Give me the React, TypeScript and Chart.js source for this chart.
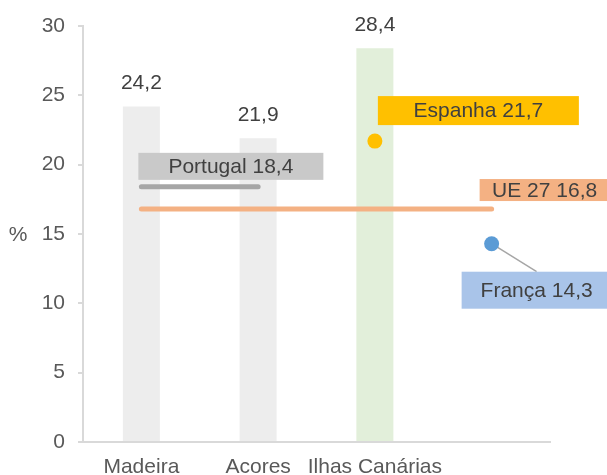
import React, { useEffect, useRef } from "react";
import { Chart, registerables } from "chart.js";

Chart.register(...registerables);

const categories = ["Madeira", "Acores", "Ilhas Canárias", ""];
const barValues = [24.2, 21.9, 28.4, null];
const portugalValues = [18.4, 18.4, null, null];
const ueValues = [16.8, 16.8, 16.8, 16.8];
const espanhaValues = [null, null, 21.7, null];
const francaValues = [null, null, null, 14.3];
const yTickMin = 0;
const yTickMax = 30;
const yTickStep = 5;

const FONT = '"Liberation Sans", Arial, sans-serif';
const TEXT = "#404040";
const fmt = (v: number) => v.toFixed(1).replace(".", ",");

// callouts: which dataset/point they annotate and their box style/offset (px)
const callouts = [
  { ds: 1, idx: 0, name: "Portugal", bg: "#c9c9c9", dx: -3, dy: -34, w: 185, h: 27 },
  { ds: 3, idx: 2, name: "Espanha", bg: "#ffc000", dx: 3, dy: -45, w: 201, h: 29 },
  { ds: 2, idx: 3, name: "UE 27", bg: "#f4b183", dx: -12, dy: -30, w: 130, h: 22 },
  { ds: 4, idx: 3, name: "França", bg: "#a9c4e9", dx: -30, dy: 28, w: 150, h: 37, leader: { x: 45, y: 28 } },
];

const overlay = {
  id: "overlay",
  afterDatasetsDraw(chart: any) {
    const ctx = chart.ctx;
    const x = chart.scales.x;
    const y = chart.scales.y;
    ctx.save();
    ctx.font = `21px ${FONT}`;
    ctx.fillStyle = TEXT;
    ctx.textAlign = "center";
    ctx.textBaseline = "middle";
    // bar value labels
    barValues.forEach((v, i) => {
      if (v == null) return;
      ctx.fillText(fmt(v), x.getPixelForValue(i), y.getPixelForValue(v) - 23);
    });
    // callouts
    callouts.forEach((c) => {
      const v = chart.data.datasets[c.ds].data[c.idx] as number;
      const px = x.getPixelForValue(c.idx);
      const py = y.getPixelForValue(v);
      if (c.leader) {
        ctx.strokeStyle = "#a6a6a6";
        ctx.lineWidth = 1.5;
        ctx.beginPath();
        ctx.moveTo(px, py);
        ctx.lineTo(px + c.leader.x, py + c.leader.y);
        ctx.stroke();
      }
      ctx.fillStyle = c.bg;
      ctx.fillRect(px + c.dx, py + c.dy, c.w, c.h);
      ctx.fillStyle = TEXT;
      ctx.fillText(`${c.name} ${fmt(v)}`, px + c.dx + c.w / 2, py + c.dy + c.h / 2 + 1);
    });
    // redraw points above leader line
    [3, 4].forEach((d) => {
      const ds = chart.data.datasets[d];
      ds.data.forEach((v: any, i: number) => {
        if (v == null) return;
        ctx.fillStyle = ds.backgroundColor;
        ctx.beginPath();
        ctx.arc(x.getPixelForValue(i), y.getPixelForValue(v), 7.5, 0, Math.PI * 2);
        ctx.fill();
      });
    });
    // y axis title
    ctx.fillStyle = "#595959";
    ctx.fillText("%", 18, y.getPixelForValue(15) + 1);
    ctx.restore();
  },
};

export default function App() {
  const ref = useRef<HTMLCanvasElement>(null);
  useEffect(() => {
    const chart = new Chart(ref.current!, {
      type: "bar",
      data: {
        labels: categories,
        datasets: [
          {
            type: "bar",
            data: barValues,
            backgroundColor: ["#ededed", "#ededed", "#e2efda", "#ededed"],
            barPercentage: 0.317,
            categoryPercentage: 1,
            order: 10,
          },
          {
            type: "line",
            data: portugalValues,
            borderColor: "#a6a6a6",
            borderWidth: 5,
            borderCapStyle: "round",
            pointRadius: 0,
            order: 2,
          },
          {
            type: "line",
            data: ueValues,
            borderColor: "#f4b183",
            borderWidth: 5,
            borderCapStyle: "round",
            pointRadius: 0,
            order: 1,
          },
          {
            type: "line",
            data: espanhaValues,
            showLine: false,
            backgroundColor: "#ffc000",
            pointRadius: 0,
            order: 0,
          },
          {
            type: "line",
            data: francaValues,
            showLine: false,
            backgroundColor: "#5b9bd5",
            pointRadius: 0,
            order: 0,
          },
        ] as any,
      },
      plugins: [overlay],
      options: {
        animation: false,
        responsive: true,
        maintainAspectRatio: false,
        layout: { padding: { left: 0, top: 26, right: 57, bottom: 0 } },
        plugins: { legend: { display: false }, tooltip: { enabled: false } },
        scales: {
          x: {
            afterFit: (s: any) => { s.height = 33; },
            grid: { display: false, drawTicks: false },
            border: { display: true, color: "#d9d9d9", width: 2 },
            ticks: {
              padding: 13,
              color: "#595959",
              font: { family: FONT, size: 21 },
              maxRotation: 0,
              autoSkip: false,
            },
          },
          y: {
            min: yTickMin,
            max: yTickMax,
            afterFit: (s: any) => { s.width = 83; },
            grid: { drawOnChartArea: false, drawTicks: true, tickLength: 5, color: "#d9d9d9", lineWidth: 2 },
            border: { display: true, color: "#d9d9d9", width: 2 },
            ticks: {
              stepSize: yTickStep,
              padding: 13,
              color: "#595959",
              font: { family: FONT, size: 21 },
            },
          },
        },
      } as any,
    });
    return () => chart.destroy();
  }, []);
  return (
    <div style={{ position: "fixed", left: 0, top: 0, width: 607, height: 475 }}>
      <canvas ref={ref} />
    </div>
  );
}
